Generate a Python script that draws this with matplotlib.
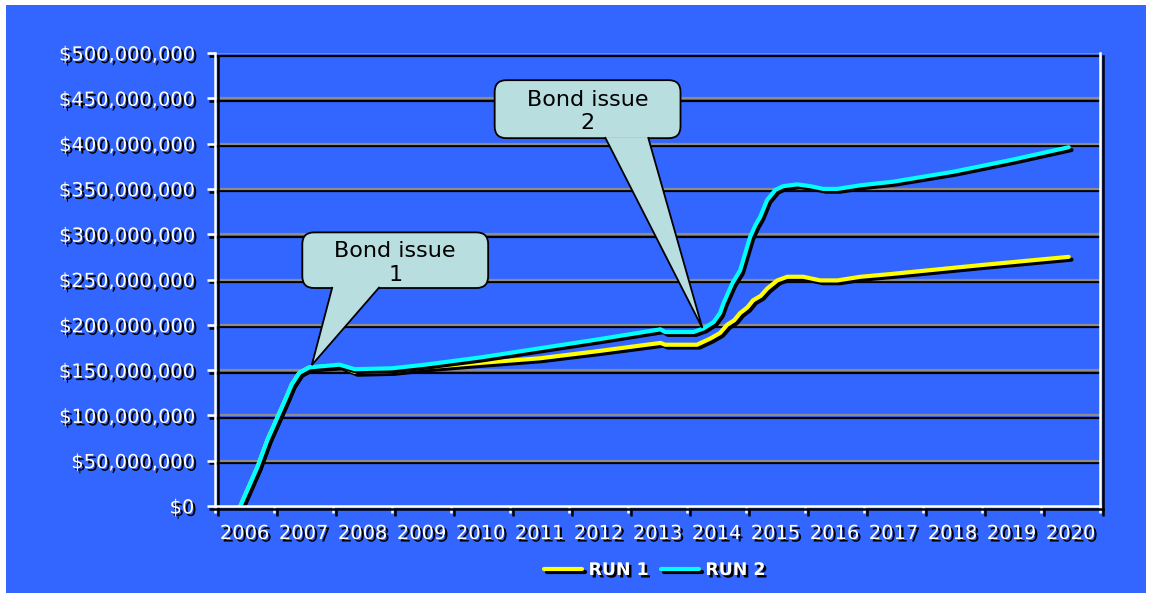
import numpy as np
import matplotlib
matplotlib.use("Agg")
import matplotlib.pyplot as plt
import matplotlib.patheffects as pe
from matplotlib.patches import Rectangle, FancyBboxPatch, Polygon

# data (year, $ millions)
years = ["2006", "2007", "2008", "2009", "2010", "2011", "2012", "2013",
         "2014", "2015", "2016", "2017", "2018", "2019", "2020"]
ytick_vals = [0, 50, 100, 150, 200, 250, 300, 350, 400, 450, 500]
ytick_labels = ["$0", "$50,000,000", "$100,000,000", "$150,000,000",
                "$200,000,000", "$250,000,000", "$300,000,000",
                "$350,000,000", "$400,000,000", "$450,000,000",
                "$500,000,000"]

run1_t = [2005.93, 2006.22, 2006.39, 2006.56, 2006.71, 2006.80, 2006.93,
          2007.10, 2007.61, 2007.87, 2008.5, 2009.06, 2010.0, 2011.0,
          2012.0, 2013.05, 2013.13, 2013.67, 2013.90, 2014.06, 2014.18,
          2014.30, 2014.40, 2014.52, 2014.62, 2014.75, 2014.86, 2015.03,
          2015.20, 2015.47, 2015.76, 2016.05, 2016.44, 2016.95, 2018.5,
          2019.97]
run1_v = [0, 43, 73, 98, 120, 134, 147,
          153, 155, 148, 149, 153, 158, 163,
          171, 180, 178, 178, 185, 191, 200,
          205, 213, 219, 227, 232, 240, 249,
          253, 253, 249, 249, 253, 256, 266,
          275]

run2_t = [2005.93, 2006.22, 2006.39, 2006.56, 2006.71, 2006.80, 2006.93,
          2007.10, 2007.61, 2007.87, 2008.5, 2009.06, 2010.0, 2011.0,
          2012.0, 2013.05, 2013.13, 2013.61, 2013.78, 2013.95, 2014.06,
          2014.12, 2014.27, 2014.40, 2014.57, 2014.66, 2014.74, 2014.86,
          2015.00, 2015.13, 2015.37, 2015.59, 2015.81, 2016.05, 2016.44,
          2017.0, 2018.02, 2019.0, 2019.97]
run2_v = [0, 43, 73, 98, 120, 134, 147,
          153, 156, 151, 152, 156, 164, 174,
          184, 195, 192, 192, 196, 203, 213,
          224, 246, 260, 297, 310, 319, 338,
          349, 353, 355, 353, 350, 350, 354,
          358, 369, 382, 396]

BLUE = "#3366FF"
BOX = "#B8DEE0"

txt_shadow = [pe.withSimplePatchShadow(offset=(1.8, -1.8), shadow_rgbFace="k", alpha=1)]
line_shadow = [pe.SimpleLineShadow(offset=(2, -2), shadow_color="k", alpha=1), pe.Normal()]

fig = plt.figure(figsize=(11.51, 5.97), dpi=100)
fig.patch.set_facecolor("white")
fig.patches.append(Rectangle((6 / 1151, 4 / 597), 1140 / 1151, 588 / 597,
                             transform=fig.transFigure, facecolor=BLUE,
                             edgecolor="none", zorder=-10))

ax = fig.add_axes([215 / 1151, 91 / 597, 885 / 1151, 453 / 597])
ax.set_facecolor("none")
ax.set_xlim(2005.5, 2020.5)
ax.set_ylim(0, 500)

# grid lines with a dark shadow
for v in ytick_vals[1:]:
    ax.axhline(v, color="#8c8c8c", lw=1.6, zorder=1,
               path_effects=[pe.SimpleLineShadow(offset=(0, -1.8), shadow_color="k", alpha=1),
                             pe.Normal()])

ax.plot(run1_t, np.array(run1_v), color="#FFFF00", lw=3, label="RUN 1",
        zorder=3, path_effects=line_shadow, solid_capstyle="round")
ax.plot(run2_t, np.array(run2_v), color="#00FFFF", lw=3, label="RUN 2",
        zorder=4, path_effects=line_shadow, solid_capstyle="round")

# axes frame
ax.spines["top"].set_visible(False)
for side in ["left", "bottom", "right"]:
    ax.spines[side].set_color("white")
    ax.spines[side].set_linewidth(1.8)
    ax.spines[side].set_path_effects(
        [pe.SimpleLineShadow(offset=(2, -2), shadow_color="k", alpha=1), pe.Normal()])
    ax.spines[side].set_zorder(5)

ax.set_yticks(ytick_vals)
ax.set_yticklabels(ytick_labels)
ax.set_xticks(np.arange(2005.5, 2021, 1.0))
ax.set_xticklabels([])
ax.set_xticks(np.arange(2006, 2021, 1.0), minor=True)
ax.set_xticklabels(years, minor=True)
ax.tick_params(axis="y", direction="out", length=6, width=1.8, color="white",
               labelcolor="white", labelsize=14, pad=9)
ax.tick_params(axis="x", which="major", direction="out", length=5, width=1.8,
               color="white")
ax.tick_params(axis="x", which="minor", length=0, labelcolor="white",
               labelsize=14, pad=13)

tick_shadow = [pe.SimpleLineShadow(offset=(2, -2), shadow_color="k", alpha=1), pe.Normal()]
for t in ax.yaxis.get_major_ticks():
    t.tick1line.set_path_effects(tick_shadow)
    t.label1.set_path_effects(txt_shadow)
for t in ax.xaxis.get_major_ticks():
    t.tick1line.set_path_effects(tick_shadow)
for t in ax.xaxis.get_minor_ticks():
    t.label1.set_path_effects(txt_shadow)


# callouts
def callout(x0, x1, y0, y1, base, tip, text):
    box = FancyBboxPatch((x0, y0), x1 - x0, y1 - y0,
                         boxstyle="round,pad=0,rounding_size=0.2",
                         mutation_aspect=65, facecolor=BOX,
                         edgecolor="k", lw=1.3, zorder=6, clip_on=False)
    ax.add_patch(box)
    tail = Polygon([(base[0], y0 + 1.2), tip, (base[1], y0 + 1.2)], closed=False,
                   facecolor=BOX, edgecolor="k", lw=1.3, zorder=7, clip_on=False)
    ax.add_patch(tail)
    ax.text((x0 + x1) / 2, (y0 + y1) / 2 - 3, text, ha="center", va="center",
            fontsize=16, color="k", zorder=8, linespacing=1.2)


callout(2006.98, 2010.13, 240.6, 302, (2007.49, 2008.29), (2007.14, 155.5),
        "Bond issue\n1")
callout(2010.24, 2013.39, 406, 470, (2012.11, 2012.84), (2013.76, 196.5),
        "Bond issue\n2")

leg = ax.legend(loc="center", bbox_to_anchor=(655 / 1151, 1 - 570 / 597),
                bbox_transform=fig.transFigure, ncol=2, frameon=False,
                prop={"size": 12.5, "weight": "bold"}, handlelength=2.2,
                handletextpad=0.35, columnspacing=0.7)
for t in leg.get_texts():
    t.set_color("white")
    t.set_path_effects(txt_shadow)

fig.savefig("out.png", dpi=100)
